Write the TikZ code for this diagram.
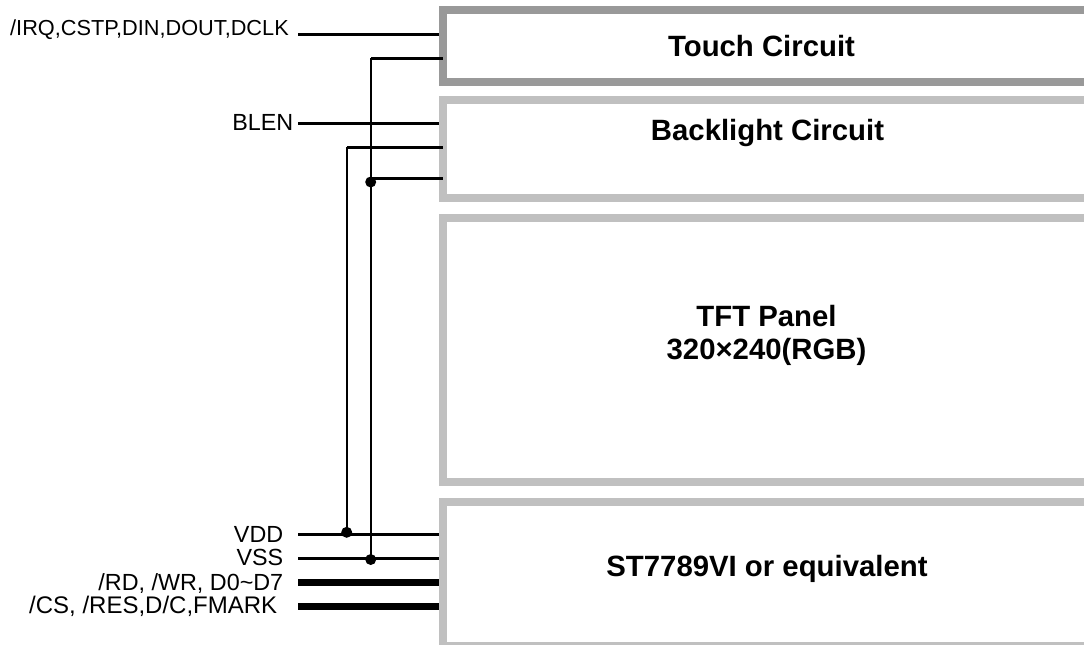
\documentclass[tikz,border=0pt]{standalone}
\usepackage{fontspec}
\setmainfont{Liberation Sans}
\begin{document}
\begin{tikzpicture}[x=0.75pt,y=0.75pt,yscale=-1,xscale=1,
  touchframe/.style={draw={rgb, 255:red, 153; green, 153; blue, 153 },line width=6pt},
  frame/.style={draw={rgb, 255:red, 192; green, 192; blue, 192 },line width=6pt},
  sig/.style={line width=2.5pt},
  bus/.style={line width=5.25pt},
  rail/.style={line width=1.5pt},
  dot/.style={circle,fill=black,inner sep=0pt,minimum size=8.25pt},
  pin/.style={inner sep=0pt,anchor=base east,font=\fontsize{17.5pt}{17.5pt}\selectfont},
  title/.style={inner sep=0pt,anchor=base,font=\fontsize{22pt}{24.75pt}\selectfont\bfseries},
  multititle/.style={inner sep=0pt,align=center,font=\fontsize{22pt}{24.75pt}\selectfont\bfseries}]
\useasboundingbox (0,0) rectangle (1084,644);
\clip (0,0) rectangle (1084,644);

%Shape: Frames
\draw [touchframe] (1090,10) -- (442.7,10) -- (442.7,82) -- (1090,82) ;
\draw [frame] (1090,99.7) -- (442.7,99.7) -- (442.7,198) -- (1090,198) ;
\draw [frame] (1090,218.3) -- (442.7,218.3) -- (442.7,482.3) -- (1090,482.3) ;
\draw [frame] (1090,502.3) -- (442.7,502.3) -- (442.7,646) -- (1090,646) ;

%Pin ends
\coordinate (irqs) at (298,34.3);
\coordinate (irqe) at (438.7,34.3);
\coordinate (tvss) at (442.7,58.3);
\coordinate (blens) at (298,123.3);
\coordinate (blene) at (438.7,123.3);
\coordinate (bvdd) at (442.7,147.3);
\coordinate (bvss) at (442.7,178.3);
\coordinate (vdds) at (298,534.3);
\coordinate (vdde) at (438.7,534.3);
\coordinate (vsss) at (298,558.3);
\coordinate (vsse) at (438.7,558.3);
\coordinate (rds) at (298,582.3);
\coordinate (rde) at (438.7,582.3);
\coordinate (css) at (298,606.3);
\coordinate (cse) at (438.7,606.3);

%Junctions
\node [dot] (jvdd) at (346.7,532.3) {};
\node [dot] (jvss) at (370.7,559.5) {};
\node [dot] (jback) at (370.7,182) {};

%Straight Lines
\draw [sig] (irqs) -- (irqe) ;
\draw [sig] (blens) -- (blene) ;
\draw [sig] (vdds) -- (vdde) ;
\draw [sig] (vsss) -- (vsse) ;
\draw [bus] (rds) -- (rde) ;
\draw [bus] (css) -- (cse) ;
\draw [sig] (tvss) -- (jback |- tvss) ;
\draw [sig] (bvdd) -- (jvdd |- bvdd) ;
\draw [sig] (bvss) -- (jback |- bvss) ;
\draw [rail] (jback |- tvss) -- (jvss.center) ;
\draw [rail] (jvdd |- bvdd) -- (jvdd.center) ;

% Text Node
\node [pin,font=\fontsize{16.3pt}{16.3pt}\selectfont] (irq) at (289,35) {/IRQ,CSTP,DIN,DOUT,DCLK};
\node [pin] (blen) at (293.5,130.7) {BLEN};
\node [pin] (vdd) at (283.5,542) {VDD};
\node [pin] (vss) at (283.5,565.7) {VSS};
\node [pin] (rd) at (283.5,590) {/RD, /WR, D0\textasciitilde D7};
\node [pin,font=\fontsize{18pt}{18pt}\selectfont] (cs) at (277.5,613) {/CS, /RES,D/C,FMARK};
\node [title] (touch) at (761.5,56.7) {Touch Circuit};
\node [title] (back) at (767.5,140.7) {Backlight Circuit};
\node [multititle] (panel) at (766.5,335) {TFT Panel\\320×240(RGB)};
\node [title] (driver) at (767,576.7) {ST7789VI or equivalent};
\end{tikzpicture}
\end{document}
